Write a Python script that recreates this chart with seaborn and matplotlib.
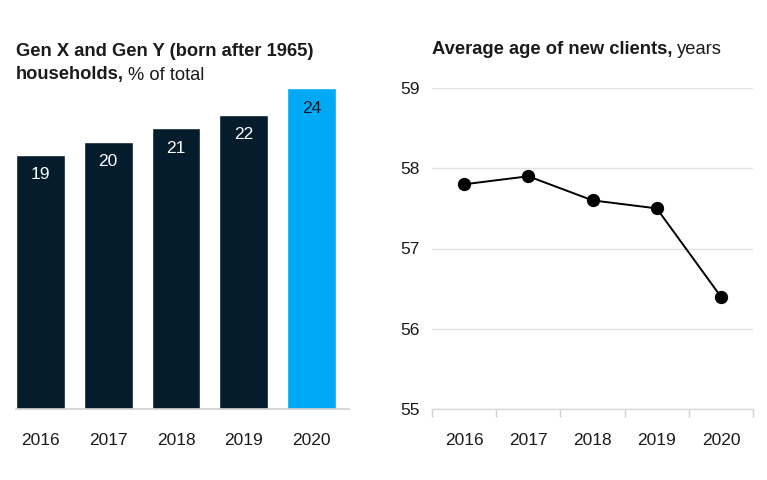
import matplotlib
matplotlib.use("Agg")
import matplotlib.pyplot as plt
import seaborn as sns
import pandas as pd
from matplotlib.ticker import FixedLocator

years = ["2016", "2017", "2018", "2019", "2020"]
share_genxy = [19, 20, 21, 22, 24]
avg_age = [57.8, 57.9, 57.6, 57.5, 56.4]
age_ticks = [55, 56, 57, 58, 59]

NAVY = "#051c2c"
BLUE = "#00a9f4"
GRID = "#e2e2e2"
TXT = "#1a1a1a"

sns.set_theme(style="white")
plt.rcParams["font.family"] = ["Liberation Sans", "DejaVu Sans"]

fig = plt.figure(figsize=(7.67, 4.8), dpi=100)

# ---------- left: bar chart ----------
axL = fig.add_axes([16 / 767, 1 - 409 / 480, 333 / 767, 321 / 480])
df_bar = pd.DataFrame({"year": years, "share": share_genxy})
palette = {y: (BLUE if y == "2020" else NAVY) for y in years}
sns.barplot(data=df_bar, x="year", y="share", hue="year", palette=palette,
            legend=False, width=0.72, saturation=1, ax=axL)
axL.set_xlim(-0.36, 4.55)
axL.set_ylim(0, 24)
for i, v in enumerate(share_genxy):
    axL.text(i, v - 1.5, str(v), ha="center", va="center", fontsize=12.5,
             color=(NAVY if years[i] == "2020" else "white"))
for s in ["top", "right", "left"]:
    axL.spines[s].set_visible(False)
axL.spines["bottom"].set_color("#cfcfcf")
axL.spines["bottom"].set_linewidth(1.2)
axL.set_yticks([])
axL.set_xlabel("")
axL.set_ylabel("")
axL.tick_params(axis="x", length=0, pad=17.5, labelsize=12.5, labelcolor=TXT)

# ---------- right: line chart ----------
axR = fig.add_axes([432 / 767, 1 - 409 / 480, 321 / 767, 321 / 480])
df_line = pd.DataFrame({"year": years, "age": avg_age})
sns.pointplot(data=df_line, x="year", y="age", color="black", markers="o",
              markersize=8.5, linewidth=1.4, ax=axR)
axR.set_xlim(-0.5, 4.5)
axR.set_ylim(55, 59)
axR.set_yticks(age_ticks)
axR.yaxis.grid(True, color=GRID, linewidth=1.0)
axR.set_axisbelow(True)
for s in ["top", "right", "left"]:
    axR.spines[s].set_visible(False)
axR.spines["bottom"].set_color("#d8d8d8")
axR.spines["bottom"].set_linewidth(1.0)
axR.xaxis.set_minor_locator(FixedLocator([-0.5, 0.5, 1.5, 2.5, 3.5, 4.5]))
axR.tick_params(axis="x", which="minor", bottom=True, length=5.5, width=1.0,
                color="#d0d0d0", direction="out")
axR.tick_params(axis="x", which="major", length=0, pad=17.5, labelsize=12.5, labelcolor=TXT)
axR.tick_params(axis="y", length=0, pad=9, labelsize=12.5, labelcolor=TXT)
axR.set_xlabel("")
axR.set_ylabel("")

# ---------- titles (bold + regular runs) ----------
fig.canvas.draw()
renderer = fig.canvas.get_renderer()

def title_run(x_px, y_px, bold, regular, size=13.2):
    t = fig.text(x_px / 767, 1 - y_px / 480, bold, fontsize=size, fontweight="bold",
                 color=TXT, ha="left", va="center")
    bb = t.get_window_extent(renderer=renderer)
    if regular:
        fig.text((bb.x1 + 4) / 767, 1 - y_px / 480, regular, fontsize=size,
                 color=TXT, ha="left", va="center")

title_run(16, 52, "Gen X and Gen Y (born after 1965)", "")
title_run(16, 75, "households,", "% of total")
title_run(432, 50, "Average age of new clients,", "years")

fig.savefig("out.png", dpi=100)
